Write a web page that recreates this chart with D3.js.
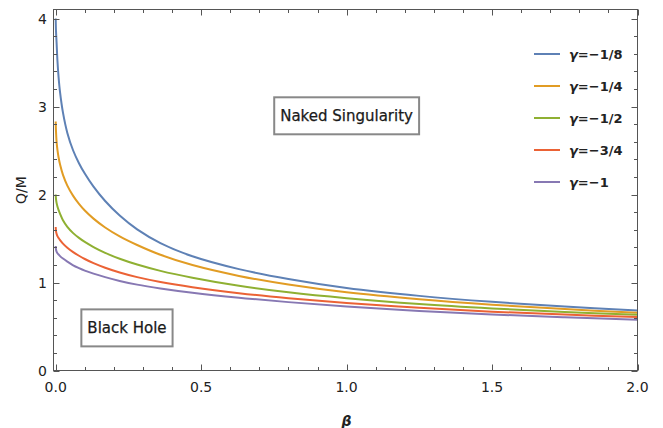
<!DOCTYPE html>
<html>
<head>
<meta charset="utf-8">
<script src="https://cdn.jsdelivr.net/npm/d3@7"></script>
<style>
  html, body { margin: 0; padding: 0; background: #fff; }
  svg { display: block; }
</style>
</head>
<body>
<svg id="chart" width="663" height="428"></svg>
<script>
// ---- data ----
const betas = [0, 0.001, 0.003, 0.006, 0.01, 0.015, 0.025, 0.04, 0.06, 0.08, 0.1, 0.13, 0.17, 0.22, 0.28, 0.36, 0.47, 0.63, 0.8, 1.0, 1.25, 1.5, 1.75, 2.0];
const gammaMinus1_8 = [4.00, 3.86, 3.73, 3.52, 3.33, 3.16, 2.93, 2.70, 2.50, 2.356, 2.238, 2.089, 1.926, 1.761, 1.604, 1.448, 1.298, 1.152, 1.04, 0.938, 0.848, 0.78, 0.727, 0.683];
const gammaMinus1_4 = [2.83, 2.72, 2.60, 2.507, 2.42, 2.34, 2.223, 2.101, 1.984, 1.893, 1.818, 1.726, 1.625, 1.524, 1.426, 1.315, 1.198, 1.075, 0.977, 0.889, 0.81, 0.748, 0.698, 0.656];
const gammaMinus1_2 = [2.00, 1.95, 1.905, 1.863, 1.822, 1.781, 1.707, 1.632, 1.561, 1.507, 1.461, 1.403, 1.337, 1.27, 1.204, 1.132, 1.054, 0.962, 0.888, 0.821, 0.755, 0.705, 0.665, 0.633];
const gammaMinus3_4 = [1.63, 1.585, 1.555, 1.527, 1.505, 1.482, 1.442, 1.395, 1.346, 1.304, 1.267, 1.22, 1.168, 1.114, 1.061, 1.006, 0.947, 0.879, 0.822, 0.767, 0.712, 0.668, 0.635, 0.607];
const gammaMinus1 = [1.414, 1.375, 1.352, 1.333, 1.318, 1.30, 1.272, 1.237, 1.195, 1.163, 1.135, 1.101, 1.061, 1.018, 0.976, 0.933, 0.884, 0.827, 0.777, 0.727, 0.677, 0.637, 0.605, 0.577];
const seriesNames = ["=−1/8", "=−1/4", "=−1/2", "=−3/4", "=−1"];
const seriesValues = [gammaMinus1_8, gammaMinus1_4, gammaMinus1_2, gammaMinus3_4, gammaMinus1];
const seriesColors = ["#5E81B5", "#E19C24", "#8FB032", "#EB6235", "#8778B3"];
const xTicks = [0, 0.5, 1.0, 1.5, 2.0];
const yTicks = [0, 1, 2, 3, 4];
const annotationTexts = ["Naked Singularity", "Black Hole"];
const annotationBeta = [1.0, 0.245];
const annotationQM = [2.9, 0.49];

// ---- layout ----
const svg = d3.select("#chart");
const frame = { left: 53.5, right: 637.5, top: 9.5, bottom: 370.5 };
const x = d3.scaleLinear().domain([0, 2]).range([55.7, 637.5]);
const y = d3.scaleLinear().domain([0, 4]).range([370.5, 18.5]);
const frameColor = "#555";
const font = "'DejaVu Sans', sans-serif";

// curves
const line = d3.line().x(d => x(d[0])).y(d => y(d[1])).curve(d3.curveCatmullRom.alpha(0.5));
const gPlot = svg.append("g");
seriesValues.forEach((vals, i) => {
  gPlot.append("path")
    .datum(betas.map((b, j) => [b, vals[j]]))
    .attr("d", line)
    .attr("fill", "none")
    .attr("stroke", seriesColors[i])
    .attr("stroke-width", 2);
});

// frame ticks
const xMinor = d3.range(0, 2.0001, 0.1).filter(v => Math.abs(v * 2 - Math.round(v * 2)) > 1e-6);
const yMinor = d3.range(0, 4.0001, 0.2).filter(v => Math.abs(v - Math.round(v)) > 1e-6);
const gT = svg.append("g").attr("stroke", frameColor).attr("stroke-width", 1);
function hTick(v, len, side) {
  const px = Math.round(x(v)) + 0.5;
  if (side === "bottom") gT.append("line").attr("x1", px).attr("x2", px).attr("y1", frame.bottom).attr("y2", frame.bottom - len);
  else gT.append("line").attr("x1", px).attr("x2", px).attr("y1", frame.top).attr("y2", frame.top + len);
}
function vTick(v, len, side) {
  const py = Math.round(y(v)) + 0.5;
  if (side === "left") gT.append("line").attr("y1", py).attr("y2", py).attr("x1", frame.left).attr("x2", frame.left + len);
  else gT.append("line").attr("y1", py).attr("y2", py).attr("x1", frame.right).attr("x2", frame.right - len);
}
["bottom", "top"].forEach(s => {
  xTicks.forEach(v => hTick(v, 6, s));
  xMinor.forEach(v => hTick(v, 3.5, s));
});
["left", "right"].forEach(s => {
  yTicks.forEach(v => vTick(v, 6, s));
  yMinor.forEach(v => vTick(v, 3.5, s));
});
svg.append("rect")
  .attr("x", frame.left).attr("y", frame.top)
  .attr("width", frame.right - frame.left).attr("height", frame.bottom - frame.top)
  .attr("fill", "none").attr("stroke", frameColor).attr("stroke-width", 1);

// tick labels
svg.append("g").selectAll("text").data(xTicks).join("text")
  .attr("x", d => x(d)).attr("y", 391.5)
  .attr("text-anchor", "middle")
  .attr("font-family", font).attr("font-size", 14).attr("fill", "#222")
  .text(d => d3.format(".1f")(d));
svg.append("g").selectAll("text").data(yTicks).join("text")
  .attr("x", 47).attr("y", d => y(d) + 5)
  .attr("text-anchor", "end")
  .attr("font-family", font).attr("font-size", 14).attr("fill", "#222")
  .text(d => d);

// axis titles
svg.append("text")
  .attr("x", x(1)).attr("y", 426)
  .attr("text-anchor", "middle")
  .attr("font-family", font).attr("font-size", 14)
  .attr("font-weight", "bold").attr("font-style", "italic").attr("fill", "#222")
  .text("β");
svg.append("text")
  .attr("transform", "translate(26,190) rotate(-90)")
  .attr("text-anchor", "middle")
  .attr("font-family", font).attr("font-size", 14).attr("fill", "#222")
  .text("Q/M");

// legend
const lg = svg.append("g");
seriesNames.forEach((name, i) => {
  const cy = 54 + i * 32;
  lg.append("line").attr("x1", 534).attr("x2", 560).attr("y1", cy).attr("y2", cy)
    .attr("stroke", seriesColors[i]).attr("stroke-width", 2);
  const t = lg.append("text").attr("x", 569).attr("y", cy + 5)
    .attr("font-family", font).attr("font-size", 13).attr("font-weight", "bold").attr("fill", "#222");
  t.append("tspan").attr("font-style", "italic").text("γ");
  t.append("tspan").text(name);
});

// annotation boxes
annotationTexts.forEach((txt, i) => {
  const g = svg.append("g");
  const t = g.append("text")
    .attr("x", x(annotationBeta[i])).attr("y", y(annotationQM[i]) + 5.5)
    .attr("text-anchor", "middle")
    .attr("font-family", font).attr("font-size", 15).attr("fill", "#1a1a1a")
    .attr("stroke", "#1a1a1a").attr("stroke-width", 0.25)
    .text(txt);
  const bb = t.node().getBBox();
  g.insert("rect", "text")
    .attr("x", bb.x - 6).attr("y", bb.y - 9.5)
    .attr("width", bb.width + 12).attr("height", bb.height + 19)
    .attr("fill", "#fff").attr("stroke", "#888").attr("stroke-width", 2);
});
</script>
</body>
</html>
